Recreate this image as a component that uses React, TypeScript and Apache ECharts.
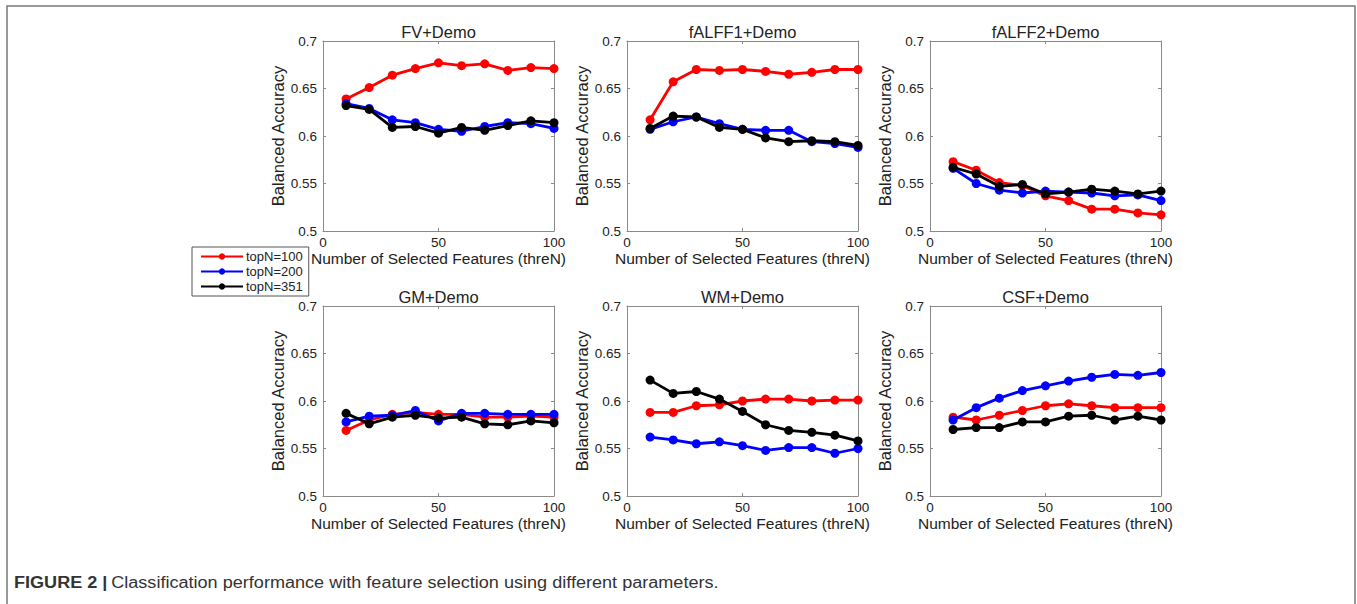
import React, { useEffect, useRef } from "react";
import * as echarts from "echarts";

const threN = [10, 20, 30, 40, 50, 60, 70, 80, 90, 100];
const seriesNames = ["topN=100", "topN=200", "topN=351"];
const seriesColors = ["#ff0000", "#0000ff", "#000000"];
const panelTitles = ["FV+Demo", "fALFF1+Demo", "fALFF2+Demo", "GM+Demo", "WM+Demo", "CSF+Demo"];
const yTicks = [0.5, 0.55, 0.6, 0.65, 0.7];
const xTicks = [0, 50, 100];

const fvTop100 = [0.639, 0.651, 0.664, 0.671, 0.677, 0.674, 0.676, 0.669, 0.672, 0.671];
const fvTop200 = [0.634, 0.629, 0.617, 0.614, 0.607, 0.605, 0.61, 0.614, 0.613, 0.608];
const fvTop351 = [0.632, 0.628, 0.609, 0.61, 0.603, 0.609, 0.606, 0.611, 0.616, 0.614];

const falff1Top100 = [0.617, 0.657, 0.67, 0.669, 0.67, 0.668, 0.665, 0.667, 0.67, 0.67];
const falff1Top200 = [0.607, 0.615, 0.62, 0.613, 0.607, 0.606, 0.606, 0.594, 0.592, 0.588];
const falff1Top351 = [0.608, 0.621, 0.62, 0.609, 0.607, 0.598, 0.594, 0.595, 0.594, 0.59];

const falff2Top100 = [0.573, 0.564, 0.551, 0.548, 0.537, 0.532, 0.523, 0.523, 0.519, 0.517];
const falff2Top200 = [0.566, 0.55, 0.543, 0.54, 0.542, 0.541, 0.54, 0.537, 0.538, 0.532];
const falff2Top351 = [0.567, 0.56, 0.547, 0.549, 0.539, 0.541, 0.544, 0.542, 0.539, 0.542];

const gmTop100 = [0.569, 0.58, 0.586, 0.588, 0.586, 0.586, 0.583, 0.583, 0.584, 0.583];
const gmTop200 = [0.578, 0.584, 0.585, 0.59, 0.579, 0.587, 0.587, 0.586, 0.586, 0.586];
const gmTop351 = [0.587, 0.576, 0.583, 0.585, 0.582, 0.583, 0.576, 0.575, 0.579, 0.577];

const wmTop100 = [0.588, 0.588, 0.595, 0.596, 0.6, 0.602, 0.602, 0.6, 0.601, 0.601];
const wmTop200 = [0.562, 0.559, 0.555, 0.557, 0.553, 0.548, 0.551, 0.551, 0.545, 0.55];
const wmTop351 = [0.622, 0.608, 0.61, 0.602, 0.589, 0.575, 0.569, 0.567, 0.564, 0.558];

const csfTop100 = [0.583, 0.58, 0.585, 0.59, 0.595, 0.597, 0.595, 0.593, 0.593, 0.593];
const csfTop200 = [0.58, 0.593, 0.603, 0.611, 0.616, 0.621, 0.625, 0.628, 0.627, 0.63];
const csfTop351 = [0.57, 0.572, 0.572, 0.578, 0.578, 0.584, 0.585, 0.58, 0.584, 0.58];

const panelData = [
  [fvTop100, fvTop200, fvTop351],
  [falff1Top100, falff1Top200, falff1Top351],
  [falff2Top100, falff2Top200, falff2Top351],
  [gmTop100, gmTop200, gmTop351],
  [wmTop100, wmTop200, wmTop351],
  [csfTop100, csfTop200, csfTop351],
];

const FONT = "'Liberation Sans', Arial, Helvetica, sans-serif";

export default function App() {
  const ref = useRef<HTMLDivElement>(null);
  useEffect(() => {
    if (!ref.current) return;
    const chart = echarts.init(ref.current, null, { renderer: "svg" });
    const colLeft = [323, 627, 930];
    const rowTop = [41, 306];
    const W = 231;
    const H = 190;
    const grids: any[] = [];
    const xAxes: any[] = [];
    const yAxes: any[] = [];
    const series: any[] = [];
    const graphics: any[] = [];
    const axisColor = "#8a8a8a";
    const labelColor = "#222";
    panelTitles.forEach((title, i) => {
      const r = Math.floor(i / 3);
      const c = i % 3;
      grids.push({ left: colLeft[c], top: rowTop[r], width: W, height: H, show: false });
      const xBase = {
        type: "value",
        gridIndex: i,
        min: xTicks[0],
        max: xTicks[xTicks.length - 1],
        interval: 50,
        splitLine: { show: false },
        axisLine: { show: true, onZero: false, lineStyle: { color: axisColor, width: 1 } },
        axisTick: { show: true, inside: true, length: 3, lineStyle: { color: axisColor } },
      };
      xAxes.push({
        ...xBase,
        position: "bottom",
        name: "Number of Selected Features (threN)",
        nameLocation: "middle",
        nameGap: 19,
        nameTextStyle: { fontFamily: FONT, fontSize: 15.5, color: labelColor },
        axisLabel: { fontFamily: FONT, fontSize: 13.5, color: labelColor, margin: 4 },
      });
      xAxes.push({ ...xBase, position: "top", axisLabel: { show: false } });
      const yBase = {
        type: "value",
        gridIndex: i,
        min: yTicks[0],
        max: yTicks[yTicks.length - 1],
        interval: 0.05,
        splitLine: { show: false },
        axisLine: { show: true, onZero: false, lineStyle: { color: axisColor, width: 1 } },
        axisTick: { show: true, inside: true, length: 3, lineStyle: { color: axisColor } },
      };
      yAxes.push({
        ...yBase,
        position: "left",
        name: "Balanced Accuracy",
        nameLocation: "middle",
        nameGap: 37,
        nameTextStyle: { fontFamily: FONT, fontSize: 16.5, color: labelColor },
        axisLabel: { fontFamily: FONT, fontSize: 13.5, color: labelColor, margin: 6 },
      });
      yAxes.push({ ...yBase, position: "right", axisLabel: { show: false } });
      panelData[i].forEach((vals, k) => {
        series.push({
          type: "line",
          name: seriesNames[k],
          xAxisIndex: i * 2,
          yAxisIndex: i * 2,
          data: threN.map((x, j) => [x, vals[j]]),
          symbol: "circle",
          symbolSize: 9,
          showSymbol: true,
          lineStyle: { color: seriesColors[k], width: 2.8 },
          itemStyle: { color: seriesColors[k] },
          z: 2 + k,
        });
      });
      graphics.push({
        type: "text",
        x: colLeft[c] + W / 2,
        y: rowTop[r] - 9,
        style: {
          text: title,
          fill: labelColor,
          font: `16.5px ${FONT}`,
          textAlign: "center",
          textVerticalAlign: "middle",
        },
      });
    });
    graphics.push({
      type: "rect",
      shape: { x: 7, y: 6, width: 1348, height: 640 },
      style: { fill: "none", stroke: "#7a7a7a", lineWidth: 1.5 },
      silent: true,
    });
    graphics.push({
      type: "text",
      x: 14,
      y: 583,
      scaleX: 1.13,
      style: {
        text: "{b|FIGURE 2 |} {n|Classification performance with feature selection using different parameters.}",
        rich: {
          b: { font: `bold 16px ${FONT}`, fill: "#333" },
          n: { font: `16px ${FONT}`, fill: "#333" },
        },
        textVerticalAlign: "middle",
      },
    });
    chart.setOption({
      animation: false,
      backgroundColor: "#ffffff",
      textStyle: { fontFamily: FONT },
      grid: grids,
      xAxis: xAxes,
      yAxis: yAxes,
      series,
      graphic: graphics,
      legend: {
        data: seriesNames,
        orient: "vertical",
        left: 192,
        top: 247,
        padding: [3, 6, 3, 8],
        itemGap: 2,
        itemWidth: 42,
        itemHeight: 8,
        borderColor: "#555",
        borderWidth: 1,
        backgroundColor: "#fff",
        textStyle: { fontFamily: FONT, fontSize: 13, color: labelColor, padding: [0, 0, 0, -2] },
        selectedMode: false,
      },
    });
    return () => chart.dispose();
  }, []);
  return (
    <div
      ref={ref}
      style={{ position: "fixed", left: 0, top: 0, width: 1357, height: 604, background: "#fff" }}
    />
  );
}
